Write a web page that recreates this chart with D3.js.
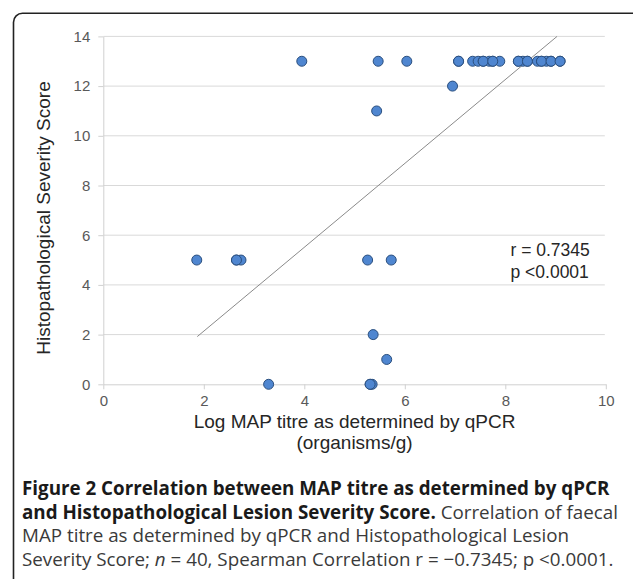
<!DOCTYPE html>
<html>
<head>
<meta charset="utf-8">
<script src="https://cdn.jsdelivr.net/npm/d3@7"></script>
<style>
	body { margin: 0; background: #ffffff; }
	svg { display: block; }
</style>
</head>
<body>
<div id="chart"></div>
<script>
// Log MAP titre (x) and histopathological score (y)
const titre = [
	3.95, 5.47, 6.04, 7.07, 7.35, 7.46, 7.56, 7.68, 7.75, 7.89,
	8.26, 8.35, 8.44, 8.64, 8.72, 8.82, 8.91, 9.09,
	6.95, 5.44,
	1.86, 2.65, 2.74, 5.26, 5.73,
	5.37, 5.64, 3.29, 5.31, 5.35,
	7.07, 7.56, 7.75, 8.26, 8.44, 8.72, 8.91, 9.09, 5.31, 2.65
];
const score = [
	13, 13, 13, 13, 13, 13, 13, 13, 13, 13,
	13, 13, 13, 13, 13, 13, 13, 13,
	12, 11,
	5, 5, 5, 5, 5,
	2, 1, 0, 0, 0,
	13, 13, 13, 13, 13, 13, 13, 13, 0, 5
];
// fitted line end points
const trend_x = [1.87, 9.03];
const trend_y = [1.92, 14];

const x_ticks = [0, 2, 4, 6, 8, 10];
const y_ticks = [0, 2, 4, 6, 8, 10, 12, 14];
const x_label = ["Log MAP titre as determined by qPCR", "(organisms/g)"];
const y_label = "Histopathological Severity Score";
const stats_label = ["r = 0.7345", "p <0.0001"];

const width = 633, height = 579;
const plot = {left: 103.3, right: 605.8, top: 36.4, bottom: 384.3};

const svg = d3.select("#chart").append("svg")
	.attr("width", width)
	.attr("height", height);

// rounded frame, runs off the right and bottom edge
svg.append("rect")
	.attr("x", 13.5).attr("y", 13.3)
	.attr("width", 640).attr("height", 600)
	.attr("rx", 9)
	.attr("fill", "none")
	.attr("stroke", "#222222")
	.attr("stroke-width", 1.6);

const x = d3.scaleLinear().domain([0, 10]).range([plot.left, plot.right]);
const y = d3.scaleLinear().domain([0, 14]).range([plot.bottom, plot.top]);

// gridlines
svg.append("g")
	.selectAll("line")
	.data(y_ticks.filter(d => d > 0))
	.join("line")
		.attr("x1", x(0)).attr("x2", x(10) - 1)
		.attr("y1", d => y(d)).attr("y2", d => y(d))
		.attr("stroke", "#d9d9d9")
		.attr("stroke-width", 1);

const tick_font = "'Liberation Sans', Arial, sans-serif";

const y_axis = svg.append("g")
	.attr("transform", "translate(" + plot.left + ",0)")
	.call(d3.axisLeft(y).tickValues(y_ticks).tickSize(5).tickPadding(8).tickSizeOuter(0));
const x_axis = svg.append("g")
	.attr("transform", "translate(0," + plot.bottom + ")")
	.call(d3.axisBottom(x).tickValues(x_ticks).tickSize(5).tickPadding(6).tickSizeOuter(0));
for (const a of [x_axis, y_axis]) {
	a.attr("font-size", 15).attr("font-family", tick_font);
	a.select(".domain").attr("stroke", "#d0d0d0");
	a.selectAll(".tick line").attr("stroke", "#d0d0d0");
	a.selectAll(".tick text")
		.attr("fill", "#595959")
		.style("font-family", tick_font)
		.style("font-size", "15px");
}

// axis titles
svg.append("g")
	.selectAll("text")
	.data(x_label)
	.join("text")
		.attr("x", (x(0) + x(10)) / 2)
		.attr("y", (d, i) => 428 + i * 21)
		.attr("text-anchor", "middle")
		.attr("font-family", tick_font)
		.attr("font-size", 19)
		.attr("fill", "#262626")
		.text(d => d);
svg.append("text")
	.attr("transform", "translate(50,218) rotate(-90)")
	.attr("text-anchor", "middle")
	.attr("font-family", tick_font)
	.attr("font-size", 19)
	.attr("fill", "#262626")
	.text(y_label);

// trend line
svg.append("line")
	.attr("x1", x(trend_x[0])).attr("y1", y(trend_y[0]))
	.attr("x2", x(trend_x[1])).attr("y2", y(trend_y[1]))
	.attr("stroke", "#8a8a8a")
	.attr("stroke-width", 1);

// points
svg.append("g")
	.selectAll("circle")
	.data(d3.range(titre.length))
	.join("circle")
		.attr("cx", i => x(titre[i]))
		.attr("cy", i => y(score[i]))
		.attr("r", 5)
		.attr("fill", "#4f86d0")
		.attr("stroke", "#2b4f7e")
		.attr("stroke-width", 1);

// stats
svg.append("g")
	.selectAll("text")
	.data(stats_label)
	.join("text")
		.attr("x", 510.5)
		.attr("y", (d, i) => 256 + i * 21.5)
		.attr("font-family", tick_font)
		.attr("font-size", 17.5)
		.attr("fill", "#262626")
		.text(d => d);

// caption
const cap_font = "'Open Sans', 'Noto Sans', sans-serif";
const caption = svg.append("text")
	.attr("font-family", cap_font)
	.attr("font-size", 18.8)
	.attr("fill", "#231f20");
const cap_lines = [
	[{t: "Figure 2 Correlation between MAP titre as determined by qPCR", b: true}],
	[{t: "and Histopathological Lesion Severity Score.", b: true}, {t: " Correlation of faecal"}],
	[{t: "MAP titre as determined by qPCR and Histopathological Lesion"}],
	[{t: "Severity Score; "}, {t: "n", i: true}, {t: " = 40, Spearman Correlation r = \u22120.7345; p <0.0001."}]
];
cap_lines.forEach((line, li) => {
	line.forEach((seg, si) => {
		const ts = caption.append("tspan")
			.attr("font-weight", seg.b ? "bold" : "normal")
			.attr("font-style", seg.i ? "italic" : "normal")
			.attr("fill", seg.b ? "#1a1a1a" : "#3a3a3a")
			.text(seg.t);
		if (si == 0) ts.attr("x", 22).attr("y", 495 + li * 23.5);
	});
});
</script>
</body>
</html>
